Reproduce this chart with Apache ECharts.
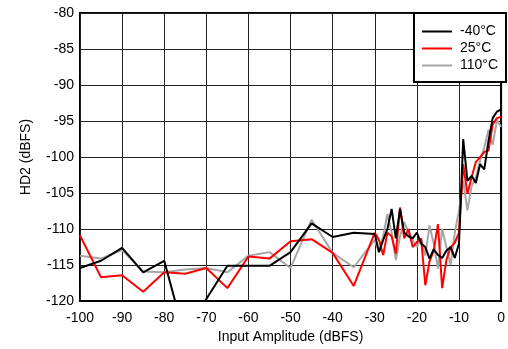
<!DOCTYPE html>
<html><head><meta charset="utf-8">
<script src="https://cdn.jsdelivr.net/npm/echarts@6/dist/echarts.min.js"></script>
<style>html,body{margin:0;padding:0;background:#fff;overflow:hidden}#c{width:508px;height:349px}</style>
</head><body><div id="c"></div>
<script>
var seriesNames = ['-40°C', '25°C', '110°C'];
var xLow = [-100, -95, -90, -85, -80, -75, -70, -65, -60, -55, -50, -45, -40, -35];
var xHigh = [-30, -29, -28, -27, -26, -25, -24, -23, -22, -21, -20, -19, -18, -17, -16, -15,
             -14, -13, -12, -11, -10, -9, -8, -7, -6, -5, -4, -3, -2, -1, 0];
var lowM40 = [-115.4, -114.4, -112.6, -116.0, -114.4, -125.2, -119.7, -115.1, -115.1, -115.1, -113.2, -109.2, -111.1, -110.5];
var highM40 = [-110.7, -113.2, -111.5, -110.0, -107.2, -111.3, -107.2, -110.5, -111.0, -111.3, -110.5, -112.0, -112.5, -114.1, -112.8, -113.6,
               -114.0, -113.0, -112.5, -114.0, -112.0, -97.5, -103.3, -102.6, -103.6, -101.0, -101.7, -97.8, -94.6, -93.7, -93.4];
var low25 = [-110.9, -116.7, -116.4, -118.7, -116.0, -116.2, -115.4, -118.2, -113.8, -114.1, -111.7, -111.4, -113.3, -117.9];
var high25 = [-110.5, -111.5, -113.6, -110.5, -111.0, -113.4, -107.0, -111.3, -110.0, -112.5, -111.8, -111.3, -117.8, -114.5, -113.0, -109.3,
              -118.2, -114.3, -112.5, -111.9, -110.5, -101.0, -105.1, -102.8, -100.7, -100.0, -99.3, -99.1, -95.5, -94.6, -94.4];
var low110 = [-113.7, -114.1, -112.9, -115.9, -116.0, -115.6, -115.4, -116.0, -113.7, -113.2, -115.4, -108.7, -113.3, -115.3];
var high110 = [-111.5, -113.2, -111.0, -107.9, -110.5, -114.3, -111.0, -109.0, -110.5, -111.5, -112.5, -111.3, -113.7, -109.5, -112.0, -115.5,
               -110.0, -112.5, -115.0, -110.5, -107.4, -103.3, -107.4, -104.0, -102.8, -100.5, -98.7, -96.2, -98.3, -94.9, -95.8];
var xTickMin = -100, xTickMax = 0, xTickStep = 10;
var yTickMin = -120, yTickMax = -80, yTickStep = 5;

function pairs(lowY, highY) {
  var out = [];
  for (var i = 0; i < xLow.length; i++) out.push([xLow[i], lowY[i]]);
  for (var j = 0; j < xHigh.length; j++) out.push([xHigh[j], highY[j]]);
  return out;
}
var colors = ['#000000', '#ff0000', '#a6a6a6'];
var dataSets = [pairs(lowM40, highM40), pairs(low25, high25), pairs(low110, high110)];
var font = 'Liberation Sans, Arial, sans-serif';

var chart = echarts.init(document.getElementById('c'), null, {renderer: 'canvas'});
chart.setOption({
  animation: false,
  grid: {left: 80, right: 3, top: 13, bottom: 44, show: true, borderColor: '#000', borderWidth: 2, containLabel: false},
  legend: {
    data: seriesNames, orient: 'vertical', right: 2, top: 13,
    backgroundColor: '#fff', borderColor: '#000', borderWidth: 2,
    padding: [10, 8, 8, 8], itemGap: 0, itemWidth: 30, itemHeight: 2, icon: 'rect',
    textStyle: {color: '#000', fontSize: 14, fontFamily: font, lineHeight: 17, padding: [0, 0, 0, 3]}
  },
  xAxis: {
    type: 'value', min: xTickMin, max: xTickMax, interval: xTickStep,
    name: 'Input Amplitude (dBFS)', nameLocation: 'middle', nameGap: 27,
    nameTextStyle: {color: '#000', fontSize: 14, fontFamily: font},
    axisLine: {lineStyle: {color: '#000', width: 2}},
    axisTick: {show: false},
    axisLabel: {color: '#000', fontSize: 14, fontFamily: font, margin: 10},
    splitLine: {show: true, lineStyle: {color: '#222', width: 1}}
  },
  yAxis: {
    type: 'value', min: yTickMin, max: yTickMax, interval: yTickStep,
    name: 'HD2 (dBFS)', nameLocation: 'middle', nameGap: 47, nameRotate: 90,
    nameTextStyle: {color: '#000', fontSize: 14, fontFamily: font},
    axisLine: {lineStyle: {color: '#000', width: 2}},
    axisTick: {show: false},
    axisLabel: {color: '#000', fontSize: 14, fontFamily: font, margin: 6},
    splitLine: {show: true, lineStyle: {color: '#222', width: 1}}
  },
  series: seriesNames.map(function (n, i) {
    return {
      name: n, type: 'line', data: dataSets[i], showSymbol: false, symbol: 'none',
      clip: true, z: 3 - i,
      lineStyle: {color: colors[i], width: 2}, itemStyle: {color: colors[i]}
    };
  })
});
</script></body></html>
